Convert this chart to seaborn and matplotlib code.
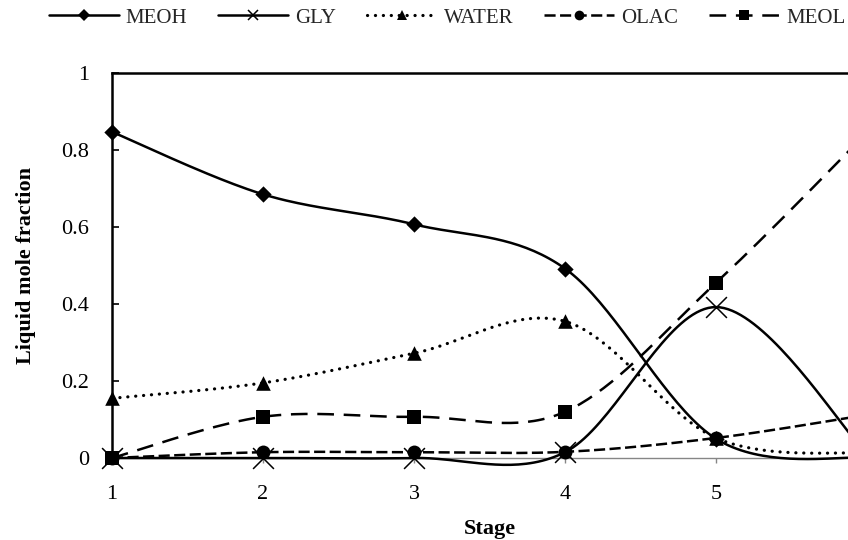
import numpy as np
import pandas as pd
import matplotlib
matplotlib.use("Agg")
import matplotlib.pyplot as plt
from matplotlib.lines import Line2D
import seaborn as sns

# Liquid composition profile along the column stages
stages = [1, 2, 3, 4, 5, 6]
meoh = [0.847, 0.685, 0.607, 0.492, 0.050, 0.000]
gly = [0.000, 0.000, 0.000, 0.015, 0.392, 0.010]
water = [0.155, 0.195, 0.272, 0.355, 0.052, 0.012]
olac = [0.000, 0.015, 0.015, 0.016, 0.052, 0.112]
meol = [0.000, 0.107, 0.107, 0.120, 0.455, 0.845]

series_names = ["MEOH", "GLY", "WATER", "OLAC", "MEOL"]
x_ticks = [1, 2, 3, 4, 5]
y_ticks = [0, 0.2, 0.4, 0.6, 0.8, 1]
y_tick_labels = ["0", "0.2", "0.4", "0.6", "0.8", "1"]

sns.set_theme(style="white")
plt.rcParams["font.family"] = ["Liberation Serif", "DejaVu Serif"]
plt.rcParams["lines.scale_dashes"] = False


def smooth_curve(xs, ys, n=40):
    """Piecewise cubic Bezier through the points (Catmull-Rom style smoothing)."""
    pts = np.column_stack([xs, ys]).astype(float)
    padded = np.vstack([pts[0], pts, pts[-1]])
    out = []
    t = np.linspace(0, 1, n)[:, None]
    for i in range(len(pts) - 1):
        p0, p1, p2, p3 = padded[i], padded[i + 1], padded[i + 2], padded[i + 3]
        c1 = p1 + (p2 - p0) / 6.0
        c2 = p2 - (p3 - p1) / 6.0
        seg = ((1 - t) ** 3) * p1 + 3 * ((1 - t) ** 2) * t * c1 \
            + 3 * (1 - t) * (t ** 2) * c2 + (t ** 3) * p2
        out.append(seg if i == 0 else seg[1:])
    return np.vstack(out)


styles = {
    "MEOH": dict(ls="-", marker="D", ms=8.3, legend_ms=6.0, z=4.6),
    "GLY": dict(ls="-", marker="x", ms=15, legend_ms=7.0, z=4.1),
    "WATER": dict(ls=(0, (0.1, 5.6)), marker="^", ms=10.5, legend_ms=7.5, z=4.2),
    "OLAC": dict(ls=(0, (8, 3.2)), marker="o", ms=10, legend_ms=7.0, z=4.3),
    "MEOL": dict(ls=(0, (12, 7)), marker="s", ms=10, legend_ms=7.0, z=4.4),
}
values = {"MEOH": meoh, "GLY": gly, "WATER": water, "OLAC": olac, "MEOL": meol}

W, H = 848, 540
fig = plt.figure(figsize=(W / 100, H / 100), dpi=100)
ax = fig.add_axes([112 / W, 1 - 458 / H, 755 / W, 385 / H])

lw = 1.8
for z, name in enumerate(series_names):
    st = styles[name]
    curve = smooth_curve(stages, values[name])
    df = pd.DataFrame({"Stage": curve[:, 0], "value": curve[:, 1]})
    sns.lineplot(data=df, x="Stage", y="value", sort=False, estimator=None,
                 ax=ax, color="black", linewidth=lw, linestyle=st["ls"],
                 zorder=3 + z * 0.1)
    line = ax.lines[-1]
    line.set_clip_on(False)
    if name == "WATER":
        line.set_dash_capstyle("round")
        line.set_linewidth(2.3)

    pts = pd.DataFrame({"Stage": stages, "value": values[name]})
    if st["marker"] == "x":
        sns.scatterplot(data=pts, x="Stage", y="value", ax=ax, marker="x",
                        s=st["ms"] ** 2, color="black", linewidth=1.1,
                        zorder=st["z"], legend=False)
    else:
        sns.scatterplot(data=pts, x="Stage", y="value", ax=ax,
                        marker=st["marker"], s=st["ms"] ** 2, color="black",
                        edgecolor="black", linewidth=0,
                        zorder=st["z"], legend=False)
    ax.collections[-1].set_clip_on(False)

ax.set_xlim(1, 6)
ax.set_ylim(0, 1)
ax.set_xticks(x_ticks)
ax.set_xticklabels([str(s) for s in x_ticks])
ax.set_yticks(y_ticks)
ax.set_yticklabels(y_tick_labels)

for side in ["left", "top", "right"]:
    ax.spines[side].set_color("black")
    ax.spines[side].set_linewidth(1.8)
ax.spines["bottom"].set_color("#868686")
ax.spines["bottom"].set_linewidth(1.0)
for sp in ax.spines.values():
    sp.set_zorder(2)

ax.tick_params(axis="y", direction="in", length=5, width=1.2, color="black",
               labelsize=16, pad=16.5, labelcolor="black", left=True)
ax.tick_params(axis="x", direction="out", length=3.6, width=1.0, color="#868686",
               labelsize=16, pad=15.5, labelcolor="black", bottom=True)

ax.set_xlabel("Stage", fontsize=16, fontweight="bold", color="black")
ax.set_ylabel("Liquid mole fraction", fontsize=16, fontweight="bold", color="black")
ax.xaxis.set_label_coords(0.5, -0.158)
ax.yaxis.set_label_coords(-0.101, 0.5)
ax.grid(False)

handles = []
for name in series_names:
    st = styles[name]
    h = Line2D([], [], color="black", linewidth=lw, linestyle=st["ls"],
               marker=st["marker"], markersize=st["legend_ms"],
               markeredgewidth=1.1 if st["marker"] == "x" else 0,
               markerfacecolor="black", markeredgecolor="black")
    if name == "WATER":
        h.set_dash_capstyle("round")
        h.set_linewidth(2.3)
    handles.append(h)

fig.legend(handles, series_names, loc="center", bbox_to_anchor=(447 / W, 1 - 18 / H),
           ncol=5, frameon=False, fontsize=15, handlelength=3.36,
           handletextpad=0.33, columnspacing=1.49, borderpad=0, borderaxespad=0)

fig.savefig("out.png", dpi=100)
